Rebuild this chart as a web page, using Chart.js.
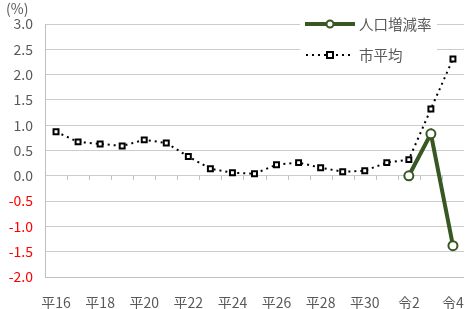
<!DOCTYPE html>
<html>
<head>
<meta charset="utf-8">
<script src="https://cdn.jsdelivr.net/npm/chart.js@4.4.1/dist/chart.umd.min.js"></script>
<style>
  html, body { margin: 0; padding: 0; background: #fff; }
  #wrap { width: 473px; height: 309px; }
</style>
</head>
<body>
<div id="wrap"><canvas id="myChart" width="473" height="309"></canvas></div>
<script>
// data
const years = ["平16", "平17", "平18", "平19", "平20", "平21", "平22", "平23", "平24", "平25",
               "平26", "平27", "平28", "平29", "平30", "令1", "令2", "令3", "令4"];
const popRate = [null, null, null, null, null, null, null, null, null, null,
                 null, null, null, null, null, null, 0.0, 0.83, -1.38];
const cityAvg = [0.87, 0.67, 0.63, 0.59, 0.71, 0.65, 0.38, 0.14, 0.06, 0.04,
                 0.22, 0.26, 0.16, 0.08, 0.10, 0.26, 0.32, 1.32, 2.31];
const yTicks = [-2.0, -1.5, -1.0, -0.5, 0.0, 0.5, 1.0, 1.5, 2.0, 2.5, 3.0];

const FONT = "'Noto Sans CJK JP', 'Noto Sans', sans-serif";
const green = "rgb(56, 87, 35)";

// zero line ticks, legend box and (%) label
const extras = {
    id: "extras",
    afterDraw(chart) {
        const ctx = chart.ctx;
        const xs = chart.scales.x;
        const ys = chart.scales.y;
        const y0 = ys.getPixelForValue(0);
        ctx.save();
        ctx.strokeStyle = "#bfbfbf";
        ctx.lineWidth = 1;
        for (let i = 1; i < years.length; i++) {
            const bx = Math.round((xs.getPixelForValue(i - 1) + xs.getPixelForValue(i)) / 2) + 0.5;
            ctx.beginPath();
            ctx.moveTo(bx, y0);
            ctx.lineTo(bx, y0 + 4);
            ctx.stroke();
        }
        ctx.restore();

        // (%)
        ctx.save();
        ctx.fillStyle = "#595959";
        ctx.font = "14px " + FONT;
        ctx.textBaseline = "top";
        ctx.fillText("(%)", 6, 2);
        ctx.restore();
    },
    afterDatasetsDraw(chart) {
        const ctx = chart.ctx;
        ctx.save();
        ctx.fillStyle = "#fff";
        ctx.fillRect(300, 0, 137, 66);

        ctx.font = "14.5px " + FONT;
        ctx.textBaseline = "middle";
        ctx.fillStyle = "#595959";

        // 人口増減率
        let ly = 24;
        ctx.strokeStyle = green;
        ctx.lineWidth = 4;
        ctx.beginPath();
        ctx.moveTo(305, ly);
        ctx.lineTo(355, ly);
        ctx.stroke();
        ctx.fillStyle = "#fff";
        ctx.lineWidth = 2;
        ctx.beginPath();
        ctx.arc(330, ly, 3.5, 0, Math.PI * 2);
        ctx.fill();
        ctx.stroke();
        ctx.fillStyle = "#595959";
        ctx.fillText("人口増減率", 359, ly);

        // 市平均
        ly = 55;
        ctx.strokeStyle = "#000";
        ctx.lineWidth = 2;
        ctx.setLineDash([2, 4]);
        ctx.beginPath();
        ctx.moveTo(306, ly);
        ctx.lineTo(354, ly);
        ctx.stroke();
        ctx.setLineDash([]);
        ctx.fillStyle = "#fff";
        ctx.fillRect(327, ly - 3, 6, 6);
        ctx.strokeRect(327, ly - 3, 6, 6);
        ctx.fillStyle = "#595959";
        ctx.fillText("市平均", 359, ly);
        ctx.restore();
    }
};

const data = {
    labels: years,
    datasets: [
        {
            label: "人口増減率",
            data: popRate,
            borderColor: green,
            borderWidth: 4,
            pointStyle: "circle",
            pointRadius: 4.5,
            pointBorderWidth: 2,
            pointBackgroundColor: "#fff",
            pointBorderColor: green,
            tension: 0
        },
        {
            label: "市平均",
            data: cityAvg,
            borderColor: "#000",
            borderWidth: 2,
            borderDash: [2, 4],
            pointStyle: "rect",
            pointRadius: 3.5,
            pointBorderWidth: 2,
            pointBackgroundColor: "#fff",
            pointBorderColor: "#000",
            tension: 0
        }
    ]
};

const config = {
    type: "line",
    data,
    options: {
        responsive: false,
        animation: false,
        layout: { padding: { top: 24, right: 1, left: 0, bottom: 0 } },
        plugins: { legend: { display: false }, tooltip: { enabled: false } },
        scales: {
            x: {
                offset: true,
                grid: { display: false },
                border: { display: true, color: "#bfbfbf" },
                ticks: {
                    autoSkip: false,
                    maxRotation: 0,
                    padding: 9,
                    color: "#595959",
                    font: { family: FONT, size: 14 },
                    callback: (v, i) => (i % 2 === 0 ? years[i] : "")
                },
                afterFit: (s) => { s.height = 32; }
            },
            y: {
                min: yTicks[0],
                max: yTicks[yTicks.length - 1],
                afterBuildTicks: (s) => { s.ticks = yTicks.map(v => ({ value: v })); },
                grid: { color: "#cccccc", drawTicks: false },
                border: { display: true, color: "#bfbfbf" },
                ticks: {
                    padding: 12,
                    color: (c) => (c.tick.value < 0 ? "#ff0000" : "#595959"),
                    font: { family: FONT, size: 14 },
                    callback: (v) => Number(v).toFixed(1)
                },
                afterFit: (s) => { s.width = 45; }
            }
        }
    },
    plugins: [extras]
};

new Chart(document.getElementById("myChart"), config);
</script>
</body>
</html>
